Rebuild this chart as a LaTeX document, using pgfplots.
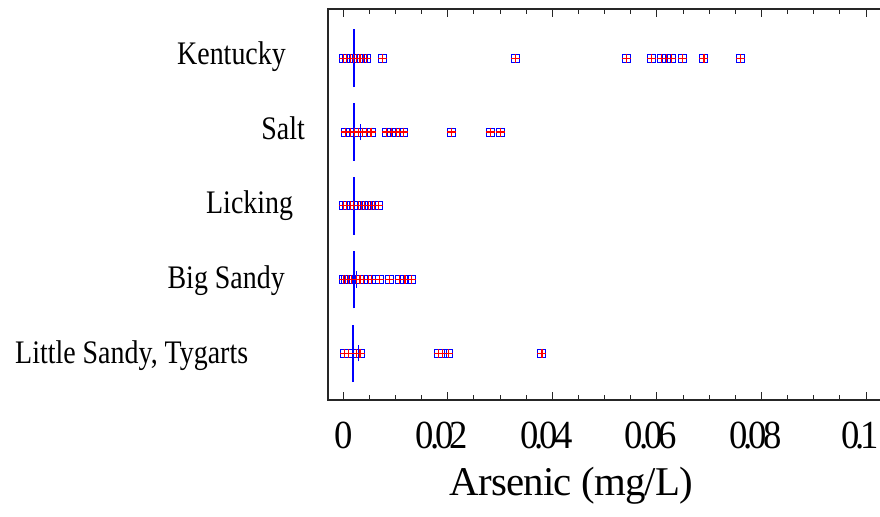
\documentclass[border=0pt]{standalone}
\usepackage{pgfplots}
\pgfplotsset{compat=1.18}
\usepackage{pgfplotstable}
\usepackage{fontspec}
\setmainfont{Liberation Serif}
\newfontfamily\condfont{Liberation Serif}[FakeStretch=0.85]
\newfontfamily\tickfont{Liberation Serif}[FakeStretch=0.92,LetterSpace=-10]
\newfontfamily\titlefont{Liberation Serif}[LetterSpace=-2]

\pgfplotstableread{
x y
0 5
0.0006 5
0.0013 5
0.0019 5
0.0026 5
0.0032 5
0.0038 5
0.0045 5
0.0075 5
0.0329 5
0.0541 5
0.0590 5
0.0609 5
0.0619 5
0.0628 5
0.0649 5
0.0690 5
0.0760 5
0.0005 4
0.0013 4
0.0022 4
0.0029 4
0.0036 4
0.0045 4
0.0053 4
0.0083 4
0.0093 4
0.0102 4
0.0108 4
0.0115 4
0.0207 4
0.0282 4
0.0301 4
0 3
0.0006 3
0.0013 3
0.0019 3
0.0029 3
0.0035 3
0.0041 3
0.0048 3
0.0054 3
0.0060 3
0.0067 3
0 2
0.0005 2
0.0010 2
0.0015 2
0.0026 2
0.0032 2
0.0038 2
0.0048 2
0.0054 2
0.0070 2
0.0089 2
0.0108 2
0.0118 2
0.0131 2
0.0003 1
0.0010 1
0.0026 1
0.0032 1
0.0182 1
0.0189 1
0.0201 1
0.0380 1
}\datatab

\begin{document}
\begin{tikzpicture}[x=1bp,y=1bp]
\useasboundingbox (-328,-117) rectangle (552,400);
\begin{axis}[at={(0,0)}, anchor=south west, scale only axis,
  width=569.4bp, height=391bp,
  xmin=-0.00293, xmax=0.106, ymin=0.367, ymax=5.668,
  ytick=\empty,
  xtick={0,0.02,0.04,0.06,0.08,0.1},
  xticklabels={0,0.02\hspace*{12bp},0.04\hspace*{12bp},0.06\hspace*{12bp},0.08\hspace*{12bp},0.1\hspace*{12bp}},
  minor x tick num=3,
  tick align=inside, major tick length=8bp, minor tick length=5bp,
  every tick/.style={black!85, line width=1bp},
  xticklabel style={font=\tickfont\fontsize{40}{40}\selectfont, anchor=base, yshift=-49bp},
  axis line style={line width=1.2bp, black!85},
  clip=false,
]
\addplot[only marks, mark=square, blue, mark size=4bp, mark options={line width=1bp}] table {\datatab};
\addplot[only marks, mark=+, red, mark size=4.5bp, mark options={line width=1.1bp}] table {\datatab};
% median lines
\addplot[blue, line width=2bp] coordinates {(0.0021,4.61) (0.0021,5.39)};
\addplot[blue, line width=2bp] coordinates {(0.0021,3.61) (0.0021,4.39)};
\addplot[blue, line width=2bp] coordinates {(0.0021,2.61) (0.0021,3.39)};
\addplot[blue, line width=2bp] coordinates {(0.0021,1.61) (0.0021,2.39)};
\addplot[blue, line width=2bp] coordinates {(0.0019,0.61) (0.0019,1.39)};
% short lines
\addplot[blue, line width=1.5bp] coordinates {(0.0033,3.89) (0.0033,4.11)};
\addplot[blue, line width=1.5bp] coordinates {(0.0025,1.89) (0.0025,2.11)};
\addplot[blue, line width=1.5bp] coordinates {(0.0029,0.89) (0.0029,1.11)};
% category labels
\node[anchor=base east, font=\condfont\fontsize{33}{33}\selectfont, inner sep=0pt] at (axis cs:-0.01096,4.909) {Kentucky};
\node[anchor=base east, font=\condfont\fontsize{33}{33}\selectfont, inner sep=0pt] at (axis cs:-0.00733,3.897) {Salt};
\node[anchor=base east, font=\condfont\fontsize{33}{33}\selectfont, inner sep=0pt] at (axis cs:-0.00957,2.897) {Licking};
\node[anchor=base east, font=\condfont\fontsize{33}{33}\selectfont, inner sep=0pt] at (axis cs:-0.01115,1.878) {Big Sandy};
\node[anchor=base east, font=\condfont\fontsize{33}{33}\selectfont, inner sep=0pt] at (axis cs:-0.01817,0.864) {Little Sandy, Tygarts};
% axis title
\node[anchor=base, font=\titlefont\fontsize{41}{41}\selectfont, inner sep=0pt] at (axis cs:0.04366,-0.921) {Arsenic (mg/L)};
\end{axis}
\end{tikzpicture}
\end{document}
